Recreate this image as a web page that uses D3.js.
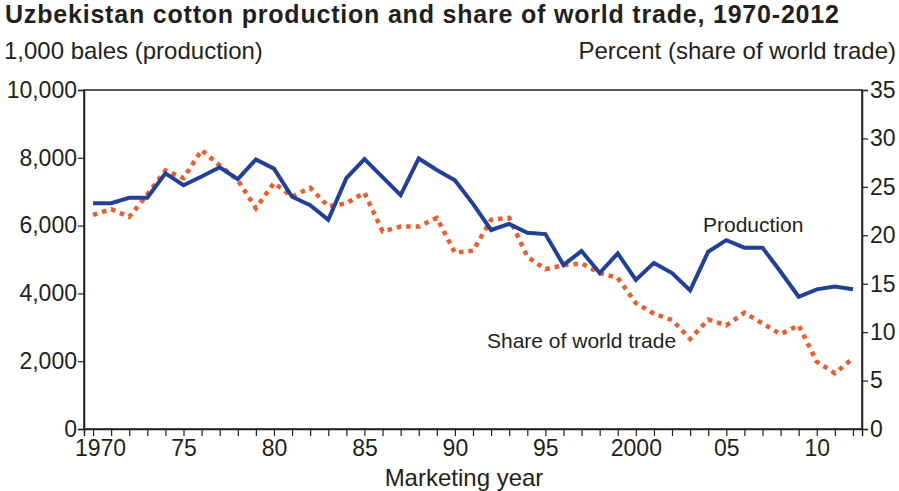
<!DOCTYPE html>
<html>
<head>
<meta charset="utf-8">
<script src="https://cdn.jsdelivr.net/npm/d3@7"></script>
<style>
  body { margin: 0; background: #fff; }
  svg { display: block; font-family: "Liberation Sans", Arial, sans-serif; }
</style>
</head>
<body>
<svg id="chart"></svg>
<script>
const years = d3.range(1970, 2013);
// 1,000 bales
const production = [
  6660, 6660, 6820, 6820, 7540, 7190, 7450, 7720, 7370, 7950,
  7680, 6850, 6600, 6170, 7400, 7960, 7430, 6900, 7980, 7640,
  7340, 6640, 5870, 6050, 5790, 5750, 4840, 5250, 4600, 5180,
  4400, 4900, 4600, 4090, 5230, 5570, 5350, 5350, 4640, 3900,
  4120, 4200, 4120
];
// percent of world trade
const share = [
  22.1, 22.7, 21.9, 24.2, 26.7, 25.9, 28.8, 27.2, 25.7, 22.8,
  25.4, 24.0, 24.9, 23.0, 23.3, 24.4, 20.4, 20.9, 20.9, 21.8,
  18.2, 18.4, 21.6, 21.8, 17.8, 16.5, 16.9, 17.1, 16.1, 15.6,
  13.0, 11.9, 11.25, 9.3, 11.3, 10.7, 12.0, 10.9, 9.8, 10.7,
  6.95, 5.75, 7.3
];
const leftTicks = [0, 2000, 4000, 6000, 8000, 10000];
const rightTicks = [0, 5, 10, 15, 20, 25, 30, 35];
const xLabelYears = [1970, 1975, 1980, 1985, 1990, 1995, 2000, 2005, 2010];
const xLabel = y => (y === 1970 || y === 2000) ? String(y) : String(y).slice(2);

const W = 899, H = 491;
const m = { left: 84, right: 37, top: 90, bottom: 62 };
const ink = '#231f20';

const svg = d3.select('#chart').attr('width', W).attr('height', H);

const x = d3.scaleLinear().domain([1969.5, 2012.5]).range([m.left, W - m.right]);
const yL = d3.scaleLinear().domain([0, 10000]).range([H - m.bottom, m.top]);
const yR = d3.scaleLinear().domain([0, 35]).range([H - m.bottom, m.top]);

// 标题
svg.append('text')
  .attr('x', 5).attr('y', 23)
  .attr('font-size', 25).attr('font-weight', 'bold').attr('fill', ink)
  .attr('letter-spacing', 0.8)
  .text('Uzbekistan cotton production and share of world trade, 1970-2012');

svg.append('text')
  .attr('x', 4).attr('y', 59)
  .attr('font-size', 24).attr('fill', ink)
  .text('1,000 bales (production)');

svg.append('text')
  .attr('x', 896).attr('y', 59).attr('text-anchor', 'end')
  .attr('font-size', 24).attr('fill', ink)
  .text('Percent (share of world trade)');

// 边框
svg.append('rect')
  .attr('x', m.left).attr('y', m.top)
  .attr('width', W - m.right - m.left).attr('height', H - m.bottom - m.top)
  .attr('fill', 'none').attr('stroke', ink).attr('stroke-width', 1.5);

// 左轴
const gL = svg.append('g')
  .attr('transform', `translate(${m.left},0)`)
  .call(d3.axisLeft(yL).tickValues(leftTicks).tickSize(6).tickPadding(1).tickFormat(d3.format(',')));

// 右轴
const gR = svg.append('g')
  .attr('transform', `translate(${W - m.right},0)`)
  .call(d3.axisRight(yR).tickValues(rightTicks).tickSize(6).tickPadding(2));

// 底轴
const gX = svg.append('g')
  .attr('transform', `translate(0,${H - m.bottom})`)
  .call(d3.axisBottom(x).tickValues(years).tickSize(7).tickPadding(4)
    .tickFormat(d => xLabelYears.includes(d) ? xLabel(d) : ''));

[gL, gR, gX].forEach(g => {
  g.select('.domain').attr('stroke', ink).attr('stroke-width', 1.5);
  g.selectAll('.tick line').attr('stroke', ink).attr('stroke-width', 1.2);
  g.selectAll('.tick text').attr('fill', ink).attr('font-size', 23)
    .attr('font-family', '"Liberation Sans", Arial, sans-serif');
});
// 1970 标签右移，避开左轴 0
gX.selectAll('.tick text').filter(d => d === 1970).attr('dx', 7);

svg.append('text')
  .attr('x', 464).attr('y', 486).attr('text-anchor', 'middle')
  .attr('font-size', 24).attr('fill', ink)
  .text('Marketing year');

// 份额线
svg.append('path')
  .datum(share)
  .attr('fill', 'none')
  .attr('stroke', '#f15a29')
  .attr('stroke-width', 4.5)
  .attr('stroke-dasharray', '4.5,5')
  .attr('d', d3.line().x((d, i) => x(years[i])).y(d => yR(d)));

// 产量线
svg.append('path')
  .datum(production)
  .attr('fill', 'none')
  .attr('stroke', '#20409a')
  .attr('stroke-width', 4)
  .attr('stroke-linejoin', 'miter')
  .attr('d', d3.line().x((d, i) => x(years[i])).y(d => yL(d)));

svg.append('text')
  .attr('x', 703).attr('y', 232)
  .attr('font-size', 21).attr('fill', ink)
  .text('Production');

svg.append('text')
  .attr('x', 487).attr('y', 348)
  .attr('font-size', 21).attr('fill', ink)
  .text('Share of world trade');
</script>
</body>
</html>
